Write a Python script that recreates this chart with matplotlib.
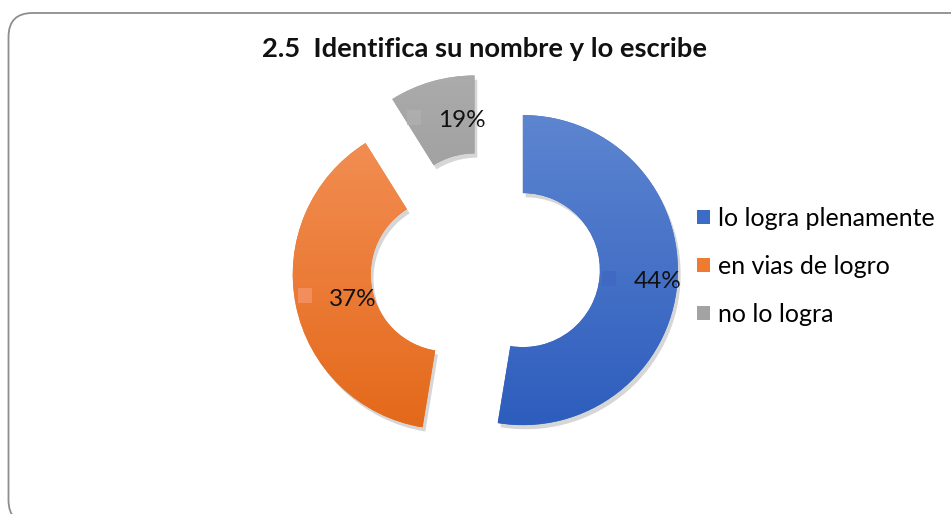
import numpy as np
import matplotlib
matplotlib.use("Agg")
import matplotlib.pyplot as plt
from matplotlib.colors import LinearSegmentedColormap
from matplotlib.patches import FancyBboxPatch, Patch, Rectangle
import matplotlib.patheffects as pe

plt.rcParams['font.family'] = ['Lato', 'DejaVu Sans']

# data
categories = ['lo logra plenamente', 'en vias de logro', 'no lo logra']
shares = [52.6, 38.5, 8.9]            # angular share of each slice as drawn
pct_labels = ['44%', '37%', '19%']    # data labels printed on the slices
title = '2.5  Identifica su nombre y lo escribe'

# colours (top of gradient, bottom of gradient, legend key)
tops = ['#5d85d0', '#f28d52', '#ababab']
bottoms = ['#2d5dbd', '#e4691a', '#9b9b9b']
keys = ['#3d6cc6', '#ee7b30', '#a3a3a3']
label_keys = ['#3f68c2', '#f39466', '#b0b0b0']

W, H = 951, 514
fig = plt.figure(figsize=(W / 100, H / 100), dpi=100)
ax = fig.add_axes([0, 0, 1, 1])

R = 155
ring = 78
wedges, _ = ax.pie(shares, center=(485, 247), radius=R, startangle=90,
                   counterclock=False, explode=[38] * len(shares),
                   colors=keys, wedgeprops=dict(width=ring, linewidth=0))

# gradient fill + soft shadow for each slice
for w, top, bot in zip(wedges, tops, bottoms):
    w.set_path_effects([pe.SimplePatchShadow(offset=(2, -3), shadow_rgbFace='k', alpha=0.16),
                        pe.Normal()])
    v = w.get_path().vertices
    x0, x1 = v[:, 0].min(), v[:, 0].max()
    y0, y1 = v[:, 1].min(), v[:, 1].max()
    cmap = LinearSegmentedColormap.from_list('g', [bot, top])
    grad = np.linspace(0, 1, 256).reshape(-1, 1)
    im = ax.imshow(grad, cmap=cmap, origin='lower', extent=(x0, x1, y0, y1),
                   aspect='auto', zorder=w.get_zorder() + 0.1)
    im.set_clip_path(w)

# data labels with their small key square
rmid = R - ring / 2
for w, txt, kc in zip(wedges, pct_labels, label_keys):
    th = np.deg2rad((w.theta1 + w.theta2) / 2)
    cx, cy = w.center
    gx = cx + rmid * np.cos(th)
    gy = cy + rmid * np.sin(th)
    ax.add_patch(Rectangle((gx - 36, gy - 6), 14, 15, facecolor=kc,
                           edgecolor='none', alpha=0.8, zorder=5))
    ax.text(gx + 19, gy - 2, txt, ha='center', va='center',
            fontsize=17.5, color='#111111', zorder=6)

ax.text(484, 514 - 57, title, ha='center', va='baseline',
        fontsize=19.7, fontweight='bold', color='#111111')

handles = [Patch(facecolor=c, edgecolor='none') for c in keys]
ax.legend(handles, categories, loc='center left',
          bbox_to_anchor=(697 / W, 247.5 / H), bbox_transform=fig.transFigure,
          frameon=False, fontsize=18, handlelength=0.52, handleheight=0.52,
          handletextpad=0.32, labelspacing=1.0, borderpad=0, borderaxespad=0)

border = FancyBboxPatch((8.5, -10), 990, 511,
                        boxstyle='round,pad=0,rounding_size=24',
                        facecolor='none', edgecolor='#8e8e8e', linewidth=1.3,
                        clip_on=False, zorder=0)
ax.add_patch(border)

ax.set_xlim(0, W)
ax.set_ylim(0, H)
ax.set_aspect('auto')
ax.axis('off')

fig.savefig('out.png', dpi=100)
